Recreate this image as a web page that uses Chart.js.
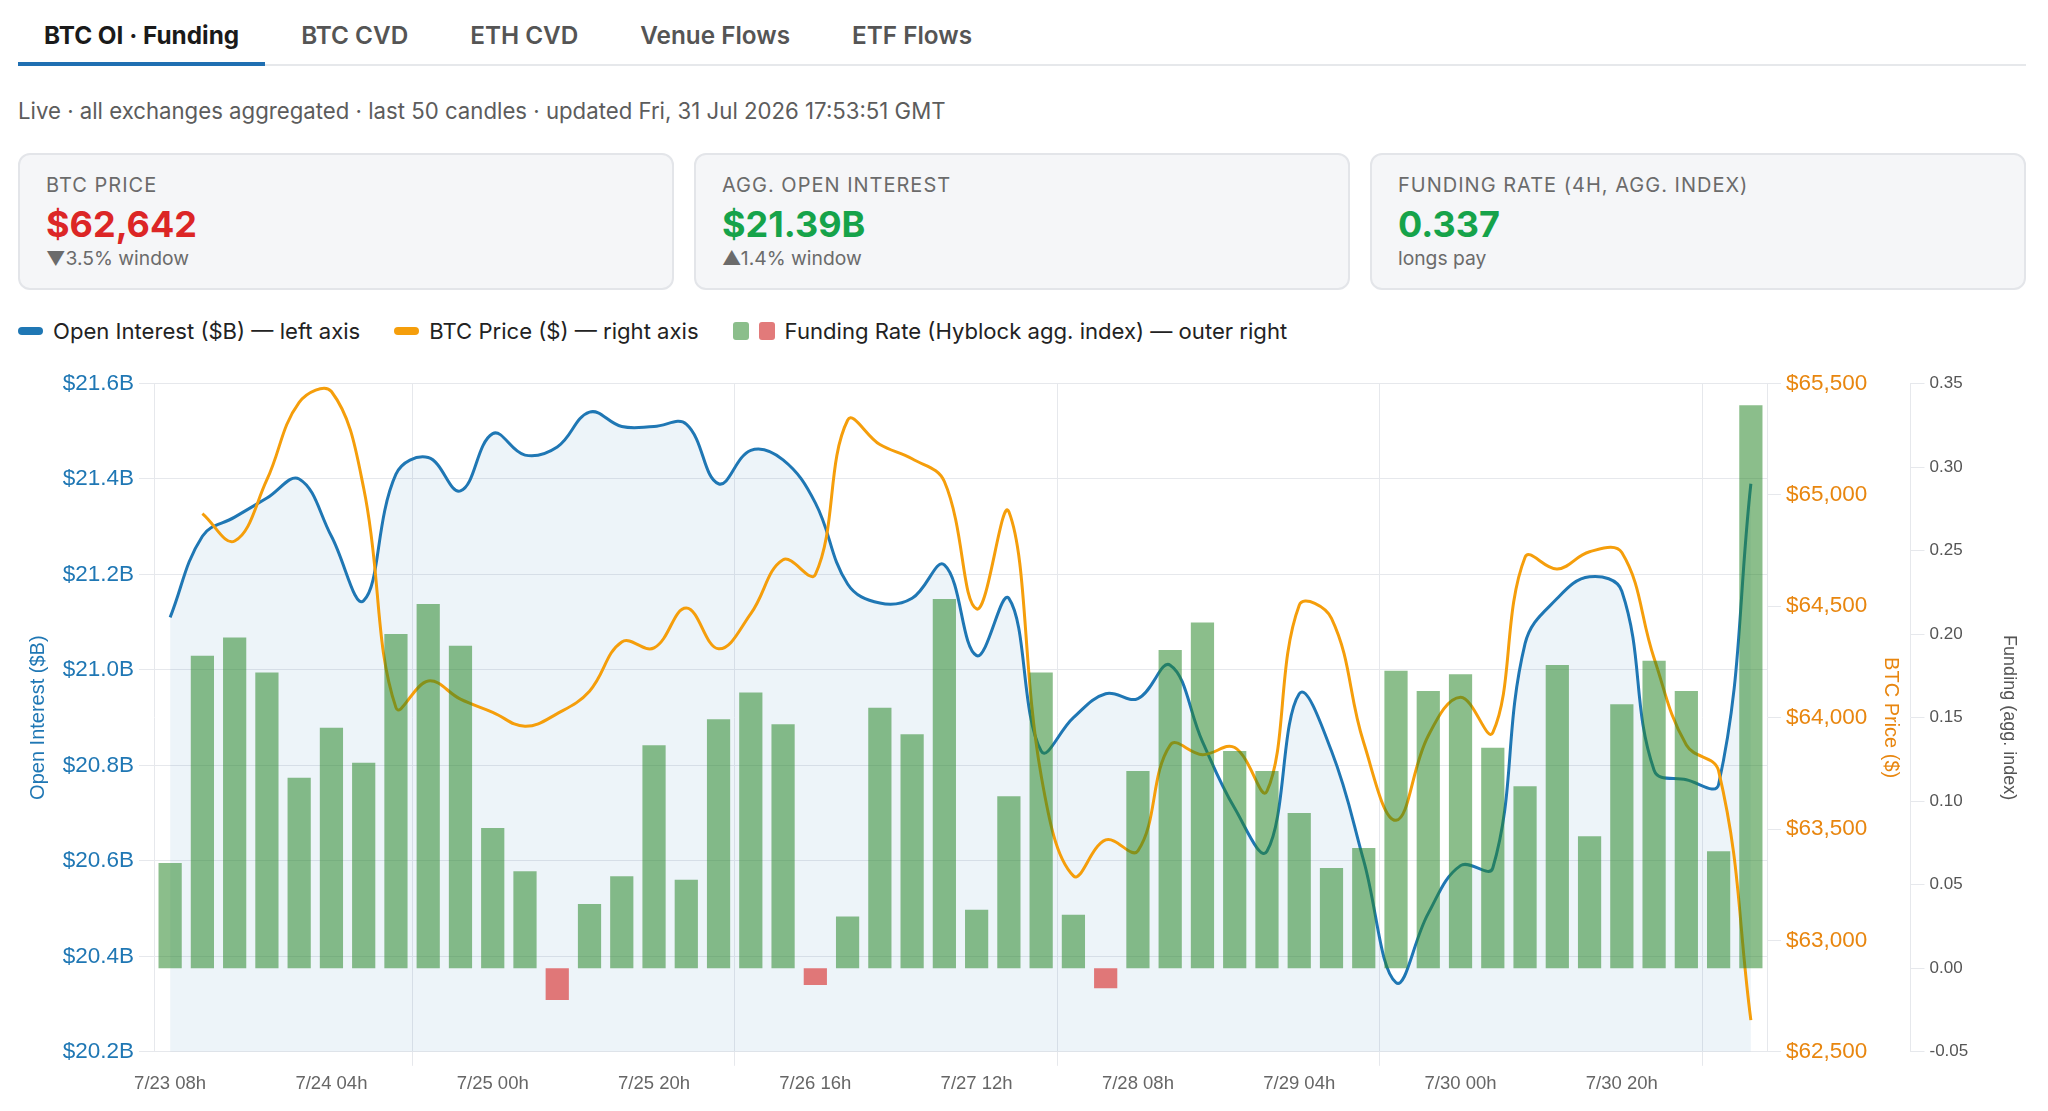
<!DOCTYPE html>
<html>
<head>
<meta charset="utf-8">
<script src="https://cdn.jsdelivr.net/npm/chart.js@4"></script>
<style>
  body { margin: 0; background: #fff; font-family: Inter, 'Noto Sans', sans-serif; color: #222; }
  .page { position: relative; width: 2048px; height: 1111px; overflow: hidden; }
  .tabs { position: absolute; top: 0; left: 18px; width: 2008px; height: 64px; border-bottom: 2px solid #e6e8eb; display: flex; }
  .tab { box-sizing: border-box; height: 64px; padding: 21px 26px 0; margin-right: 10px; font-size: 24.3px; line-height: 29px; font-weight: 600; color: #555; }
  .tab.active { height: 66px; color: #1a1a1a; font-weight: 700; border-bottom: 4px solid #1f6fb2; }
  .sub { position: absolute; top: 97px; left: 18px; font-size: 22.2px; line-height: 28px; color: #5c5c5c; }
  .card { position: absolute; top: 153px; width: 656px; height: 137px; box-sizing: border-box; border: 2px solid #e3e5e9; border-radius: 12px; background: #f5f6f8; }
  .card .lbl { position: absolute; left: 26px; top: 18px; font-size: 20px; line-height: 24px; letter-spacing: 1px; color: #6b6b6b; }
  .card .val { position: absolute; left: 26px; top: 49px; font-size: 36px; line-height: 40px; font-weight: 700; }
  .card .note { position: absolute; left: 26px; top: 91px; font-size: 19.3px; line-height: 24px; color: #6b6b6b; }
  .red { color: #dc2626; }
  .green { color: #16a34a; }
  .legend { position: absolute; top: 317px; left: 18px; display: flex; align-items: center; font-size: 22.1px; line-height: 28px; color: #222; }
  .legend .item { display: flex; align-items: center; margin-right: 34px; }
  .sw-line { width: 25px; height: 8px; border-radius: 4px; margin-right: 10px; }
  .sw-box { width: 16px; height: 18px; border-radius: 3px; margin-right: 10px; }
  .chart-box { position: absolute; top: 365px; left: 18px; width: 2008px; height: 746px; }
</style>
</head>
<body>
<div class="page">
  <div class="tabs">
    <div class="tab active">BTC OI · Funding</div>
    <div class="tab">BTC CVD</div>
    <div class="tab">ETH CVD</div>
    <div class="tab">Venue Flows</div>
    <div class="tab">ETF Flows</div>
  </div>
  <div class="sub">Live · all exchanges aggregated · last 50 candles · updated Fri, 31 Jul 2026 17:53:51 GMT</div>

  <div class="card" style="left:18px">
    <div class="lbl">BTC PRICE</div>
    <div class="val red">$62,642</div>
    <div class="note">▼3.5% window</div>
  </div>
  <div class="card" style="left:694px">
    <div class="lbl">AGG. OPEN INTEREST</div>
    <div class="val green">$21.39B</div>
    <div class="note">▲1.4% window</div>
  </div>
  <div class="card" style="left:1370px">
    <div class="lbl">FUNDING RATE (4H, AGG. INDEX)</div>
    <div class="val green">0.337</div>
    <div class="note">longs pay</div>
  </div>

  <div class="legend">
    <div class="item"><span class="sw-line" style="background:#1f77b4"></span>Open Interest ($B) — left axis</div>
    <div class="item"><span class="sw-line" style="background:#f59e0b"></span>BTC Price ($) — right axis</div>
    <div class="item"><span class="sw-box" style="background:#8bbe8b"></span><span class="sw-box" style="background:#e27a7a"></span>Funding Rate (Hyblock agg. index) — outer right</div>
  </div>

  <div class="chart-box"><canvas id="chart"></canvas></div>
</div>

<script>
// 4h candles, oldest first
const candles = [
  '7/23 08h', '7/23 12h', '7/23 16h', '7/23 20h', '7/24 00h', '7/24 04h', '7/24 08h', '7/24 12h', '7/24 16h', '7/24 20h',
  '7/25 00h', '7/25 04h', '7/25 08h', '7/25 12h', '7/25 16h', '7/25 20h', '7/26 00h', '7/26 04h', '7/26 08h', '7/26 12h',
  '7/26 16h', '7/26 20h', '7/27 00h', '7/27 04h', '7/27 08h', '7/27 12h', '7/27 16h', '7/27 20h', '7/28 00h', '7/28 04h',
  '7/28 08h', '7/28 12h', '7/28 16h', '7/28 20h', '7/29 00h', '7/29 04h', '7/29 08h', '7/29 12h', '7/29 16h', '7/29 20h',
  '7/30 00h', '7/30 04h', '7/30 08h', '7/30 12h', '7/30 16h', '7/30 20h', '7/31 00h', '7/31 04h', '7/31 08h', '7/31 12h',
];

// aggregated open interest, $B
const openInterest = [
  21.11, 21.28, 21.32, 21.36, 21.40, 21.28, 21.145, 21.41, 21.445, 21.375,
  21.495, 21.45, 21.467, 21.54, 21.51, 21.51, 21.515, 21.39, 21.46, 21.44,
  21.35, 21.18, 21.14, 21.15, 21.22, 21.03, 21.15, 20.83, 20.90, 20.95,
  20.94, 21.01, 20.85, 20.71, 20.62, 20.95, 20.83, 20.60, 20.345, 20.49,
  20.59, 20.585, 21.055, 21.15, 21.195, 21.165, 20.79, 20.77, 20.76, 21.39,
];

// BTC close, $ (first candle has no price)
const btcPrice = [
  null, 64916, 64793, 65068, 65415, 65464, 65030, 64045, 64165, 64083,
  64024, 63961, 64018, 64119, 64340, 64313, 64492, 64309, 64467, 64709,
  64642, 65335, 65226, 65162, 65060, 64488, 64924, 63740, 63290, 63451,
  63402, 63877, 63834, 63866, 63670, 64505, 64446, 63887, 63539, 63919,
  64092, 63933, 64720, 64667, 64745, 64741, 64267, 63877, 63761, 62642,
];

// Hyblock aggregated funding index
const funding = [
  0.063, 0.187, 0.198, 0.177, 0.114, 0.144, 0.123, 0.200, 0.218, 0.193,
  0.084, 0.058, -0.019, 0.0385, 0.055, 0.1335, 0.053, 0.149, 0.165, 0.146,
  -0.010, 0.031, 0.156, 0.140, 0.221, 0.035, 0.103, 0.177, 0.032, -0.012,
  0.118, 0.1905, 0.207, 0.130, 0.118, 0.093, 0.060, 0.072, 0.178, 0.166,
  0.176, 0.132, 0.109, 0.1815, 0.079, 0.158, 0.184, 0.166, 0.070, 0.337,
];

const BLUE = '#1f77b4';
const ORANGE = '#f59e0b';
const ORANGE_TEXT = '#e8860f';
const GRID = '#e6e8ec';

Chart.defaults.font.family = "'Liberation Sans', Arial, sans-serif";
Chart.defaults.borderColor = GRID;
Chart.defaults.animation = false;

// pin axis widths so the plot area lines up with the reference layout
const fixWidth = (w) => (scale) => { scale.width = w; };

new Chart(document.getElementById('chart'), {
  type: 'bar',
  data: {
    labels: candles,
    datasets: [{
      type: 'bar',
      label: 'Funding Rate (Hyblock agg. index)',
      data: funding,
      yAxisID: 'y2',
      backgroundColor: (c) => (c.raw < 0 ? 'rgba(218,52,52,0.65)' : 'rgba(40,134,40,0.54)'),
      order: 0,
    }, {
      type: 'line',
      label: 'Open Interest ($B)',
      data: openInterest,
      yAxisID: 'y',
      borderColor: BLUE,
      borderWidth: 3,
      backgroundColor: 'rgba(31,119,180,0.08)',
      fill: 'start',
      pointRadius: 0,
      tension: 0.4,
      order: 2,
    }, {
      type: 'line',
      label: 'BTC Price ($)',
      data: btcPrice,
      yAxisID: 'y1',
      borderColor: ORANGE,
      borderWidth: 3,
      fill: false,
      pointRadius: 0,
      tension: 0.4,
      order: 1,
    }],
  },
  options: {
    responsive: true,
    maintainAspectRatio: false,
    layout: { padding: { left: 0, right: 0, top: 0, bottom: 9 } },
    plugins: {
      legend: { display: false },
      tooltip: { enabled: false },
    },
    scales: {
      x: {
        grid: { color: GRID, tickLength: 14 },
        ticks: {
          color: '#666', font: { size: 18.5 }, maxRotation: 0, autoSkip: true, maxTicksLimit: 10, padding: 7,
        },
      },
      y: {
        position: 'left',
        min: 20.2,
        max: 21.6,
        afterFit: fixWidth(136),
        grid: { color: GRID, tickLength: 15 },
        ticks: {
          stepSize: 0.2, color: BLUE, font: { size: 22.5 }, padding: 5,
          callback: (v) => `$${v.toFixed(1)}B`,
        },
        title: {
          display: true, text: 'Open Interest ($B)', color: BLUE, font: { size: 20 }, padding: { top: 8, bottom: 12 },
        },
      },
      y1: {
        position: 'right',
        min: 62500,
        max: 65500,
        afterFit: fixWidth(143.5),
        grid: { drawOnChartArea: false, color: GRID, tickLength: 14 },
        ticks: {
          stepSize: 500, color: ORANGE_TEXT, font: { size: 22.5 }, padding: 5,
          callback: (v) => `$${v.toLocaleString('en-US')}`,
        },
        title: {
          display: true, text: 'BTC Price ($)', color: ORANGE_TEXT, font: { size: 20 }, padding: { top: 7.5, bottom: 11.7 },
        },
      },
      y2: {
        position: 'right',
        min: -0.05,
        max: 0.35,
        afterFit: fixWidth(115.5),
        grid: { drawOnChartArea: false, color: GRID, tickLength: 14 },
        ticks: {
          stepSize: 0.05, color: '#555', font: { size: 17 }, padding: 5,
          callback: (v) => (Math.abs(v) < 1e-9 ? '0.00' : v.toFixed(2)),
        },
        title: {
          display: true, text: 'Funding (agg. index)', color: '#555', font: { size: 18 }, padding: { top: 6.6, bottom: 29 },
        },
      },
    },
  },
});
</script>
</body>
</html>
